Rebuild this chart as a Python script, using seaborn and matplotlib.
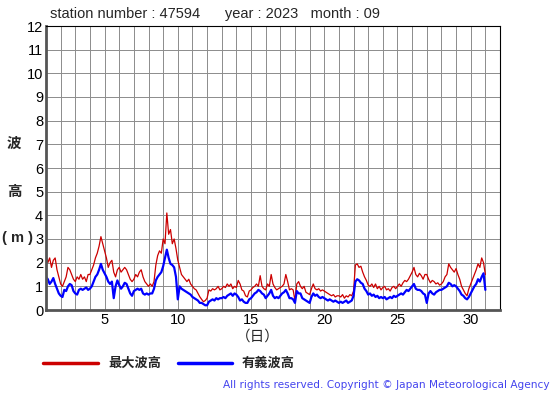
import numpy as np
import pandas as pd
import matplotlib
matplotlib.use('Agg')
import matplotlib.pyplot as plt
import seaborn as sns

# 3-hourly readings, Sep 1 00h .. Sep 30 21h, plus Oct 1 00h
max_wave = [
    2.3, 2.0, 2.2, 1.8, 2.1, 2.2, 1.7, 1.4,
    1.1, 1.0, 1.2, 1.4, 1.8, 1.7, 1.5, 1.3,
    1.2, 1.4, 1.3, 1.5, 1.3, 1.4, 1.2, 1.5,
    1.5, 1.7, 1.9, 2.2, 2.4, 2.7, 3.1, 2.8,
    2.5, 2.2, 1.8, 2.0, 2.1, 1.6, 1.4, 1.7,
    1.8, 1.6, 1.7, 1.8, 1.7, 1.5, 1.3, 1.2,
    1.3, 1.5, 1.4, 1.6, 1.7, 1.4, 1.2, 1.1,
    1.0, 1.1, 1.0, 1.2, 1.9, 2.3, 2.5, 2.4,
    3.0, 2.8, 4.1, 3.2, 3.4, 2.8, 3.0, 2.6,
    2.1, 1.8, 1.5, 1.4, 1.3, 1.2, 1.3, 1.1,
    1.0, 0.9, 0.85, 0.7, 0.56, 0.45, 0.35, 0.4,
    0.5, 0.85, 0.8, 0.9, 0.85, 0.9, 1.0, 0.85,
    0.9, 1.0, 0.95, 1.1, 1.0, 1.1, 0.9, 1.0,
    0.95, 1.25, 1.1, 0.85, 0.8, 0.6, 0.55, 0.8,
    0.85, 0.95, 1.0, 1.1, 1.0, 1.45, 1.0, 0.9,
    0.85, 1.1, 1.0, 1.5, 1.1, 0.95, 0.85, 0.9,
    0.95, 1.0, 1.1, 1.5, 1.2, 0.85, 0.9, 0.85,
    0.4, 1.1, 1.2, 1.0, 0.9, 1.0, 0.75, 0.7,
    0.65, 0.9, 1.1, 0.9, 0.85, 0.9, 0.8, 0.85,
    0.8, 0.75, 0.7, 0.65, 0.6, 0.65, 0.55, 0.6,
    0.6, 0.55, 0.65, 0.5, 0.6, 0.55, 0.65, 0.6,
    0.8, 1.9, 1.95, 1.8, 1.85, 1.6, 1.4, 1.25,
    1.05, 1.0, 1.1, 0.95, 1.1, 0.9, 1.0, 0.85,
    0.95, 1.0, 0.85, 0.9, 0.8, 0.95, 1.0, 0.9,
    1.0, 1.1, 1.0, 1.15, 1.25, 1.2, 1.3, 1.45,
    1.6, 1.8, 1.5, 1.4, 1.55, 1.45, 1.3, 1.5,
    1.5, 1.3, 1.15, 1.25, 1.2, 1.1, 1.15, 1.05,
    1.1, 1.2, 1.4, 1.5, 1.95, 1.8, 1.7, 1.6,
    1.75, 1.5, 1.3, 1.0, 0.85, 0.7, 0.6, 0.9,
    1.1, 1.3, 1.5, 1.7, 1.95, 1.8, 2.2, 2.0,
    1.5,
]

sig_wave = [
    1.4, 1.3, 1.1, 1.2, 1.35, 1.1, 0.9, 0.7,
    0.6, 0.55, 0.85, 0.8, 1.0, 1.1, 1.05, 0.8,
    0.7, 0.65, 0.85, 0.9, 0.85, 0.9, 0.95, 0.85,
    0.9, 1.0, 1.2, 1.4, 1.5, 1.7, 1.95, 1.7,
    1.55, 1.4, 1.2, 1.1, 1.2, 0.5, 1.0, 1.25,
    1.05, 0.9, 1.0, 1.15, 1.1, 0.9, 0.7, 0.6,
    0.8, 0.85, 0.9, 0.85, 0.9, 0.7, 0.65, 0.7,
    0.65, 0.7, 0.7, 0.9, 1.25, 1.4, 1.5, 1.6,
    1.85, 2.2, 2.55, 2.2, 1.95, 1.9, 1.8, 1.4,
    0.45, 1.0, 0.9, 0.85, 0.8, 0.75, 0.7, 0.65,
    0.55, 0.5, 0.45, 0.4, 0.3, 0.3, 0.25, 0.2,
    0.2, 0.35, 0.4, 0.45, 0.4, 0.5, 0.45, 0.5,
    0.5, 0.55, 0.5, 0.6, 0.65, 0.7, 0.6, 0.7,
    0.65, 0.55, 0.4, 0.45, 0.35, 0.3, 0.3, 0.45,
    0.5, 0.6, 0.7, 0.75, 0.85, 0.8, 0.7, 0.65,
    0.5, 0.6, 0.7, 0.85, 0.6, 0.5, 0.55, 0.5,
    0.6, 0.7, 0.75, 0.85, 0.7, 0.5, 0.5, 0.45,
    0.3, 0.8, 0.7, 0.7, 0.5, 0.45, 0.4, 0.35,
    0.3, 0.55, 0.7, 0.6, 0.65, 0.55, 0.5, 0.55,
    0.5, 0.45, 0.4, 0.45, 0.4, 0.35, 0.4, 0.35,
    0.3, 0.35, 0.3, 0.35, 0.4, 0.3, 0.35, 0.4,
    0.6, 1.2, 1.3, 1.25, 1.15, 1.1, 0.9, 0.8,
    0.65, 0.7, 0.6, 0.65, 0.55, 0.6, 0.5, 0.55,
    0.5, 0.55, 0.45, 0.5, 0.55, 0.5, 0.6, 0.55,
    0.6, 0.65, 0.7, 0.65, 0.75, 0.85, 0.8, 0.9,
    1.0, 1.1, 0.9, 0.85, 0.85, 0.8, 0.7, 0.65,
    0.3, 0.7, 0.8, 0.7, 0.65, 0.75, 0.8, 0.85,
    0.85, 0.9, 0.95, 1.0, 1.15, 1.1, 1.0, 1.05,
    1.0, 0.9, 0.8, 0.65, 0.6, 0.5, 0.45, 0.55,
    0.7, 0.85, 1.0, 1.1, 1.3, 1.2, 1.4, 1.55,
    0.85,
]

day_labels = ['5', '10', '15', '20', '25', '30']

days = 1 + np.arange(len(max_wave)) / 8.0
df = pd.DataFrame({'day': days, 'max': max_wave, 'sig': sig_wave})

sns.set_style('white')
plt.rcParams['font.family'] = ['Liberation Sans', 'Noto Sans CJK JP']

fig = plt.figure(figsize=(5.55, 3.95), dpi=100)
ax = fig.add_axes([46 / 555, 85 / 395, 454 / 555, 284 / 395])

sns.lineplot(data=df, x='day', y='max', ax=ax, color='#cc0000', linewidth=0.9)
sns.lineplot(data=df, x='day', y='sig', ax=ax, color='#0000ff', linewidth=1.6)

ax.set_xlim(1, 32)
ax.set_ylim(0, 12)
ax.set_xticks(range(1, 33))
ax.set_xticklabels([str(d) if str(d) in day_labels else '' for d in range(1, 33)])
ax.set_yticks(range(0, 13))
ax.tick_params(axis='both', length=0, labelsize=10.5, colors='black', pad=2)
ax.grid(True, color='#8c8c8c', linewidth=0.7)
ax.set_axisbelow(True)
ax.set_xlabel('')
ax.set_ylabel('')
for s in ['top', 'right']:
    ax.spines[s].set_color('black')
    ax.spines[s].set_linewidth(0.8)
for s in ['left', 'bottom']:
    ax.spines[s].set_color('#555555')
    ax.spines[s].set_linewidth(2)

fig.text(50 / 555, 1 - 14 / 395, 'station number : 47594      year : 2023   month : 09',
         fontsize=10.5, va='center', ha='left')

jp = ['Noto Sans CJK JP', 'DejaVu Sans']
fig.text(14 / 555, 1 - 143 / 395, '波', fontsize=10.5, fontweight='bold', family=jp, ha='center', va='center')
fig.text(14 / 555, 1 - 191 / 395, '高', fontsize=10.5, fontweight='bold', family=jp, ha='center', va='center')
fig.text(18 / 555, 1 - 238 / 395, '( m )', fontsize=10.5, fontweight='bold', ha='center', va='center')
fig.text(258 / 555, 1 - 337 / 395, '（日）', fontsize=10.5, family=jp, ha='center', va='center')

fig.add_artist(plt.Line2D([43 / 555, 98 / 555], [1 - 363 / 395] * 2, color='#cc0000', linewidth=2.5))
fig.text(108 / 555, 1 - 363 / 395, '最大波高', fontsize=9.5, fontweight='bold', family=jp, va='center')
fig.add_artist(plt.Line2D([178 / 555, 232 / 555], [1 - 363 / 395] * 2, color='#0000ff', linewidth=2.5))
fig.text(242 / 555, 1 - 363 / 395, '有義波高', fontsize=9.5, fontweight='bold', family=jp, va='center')

fig.text(550 / 555, 1 - 385 / 395, 'All rights reserved. Copyright © Japan Meteorological Agency',
         fontsize=7.6, color='#4444ee', ha='right', va='center', family='DejaVu Sans')

fig.savefig('out.png', dpi=100)
